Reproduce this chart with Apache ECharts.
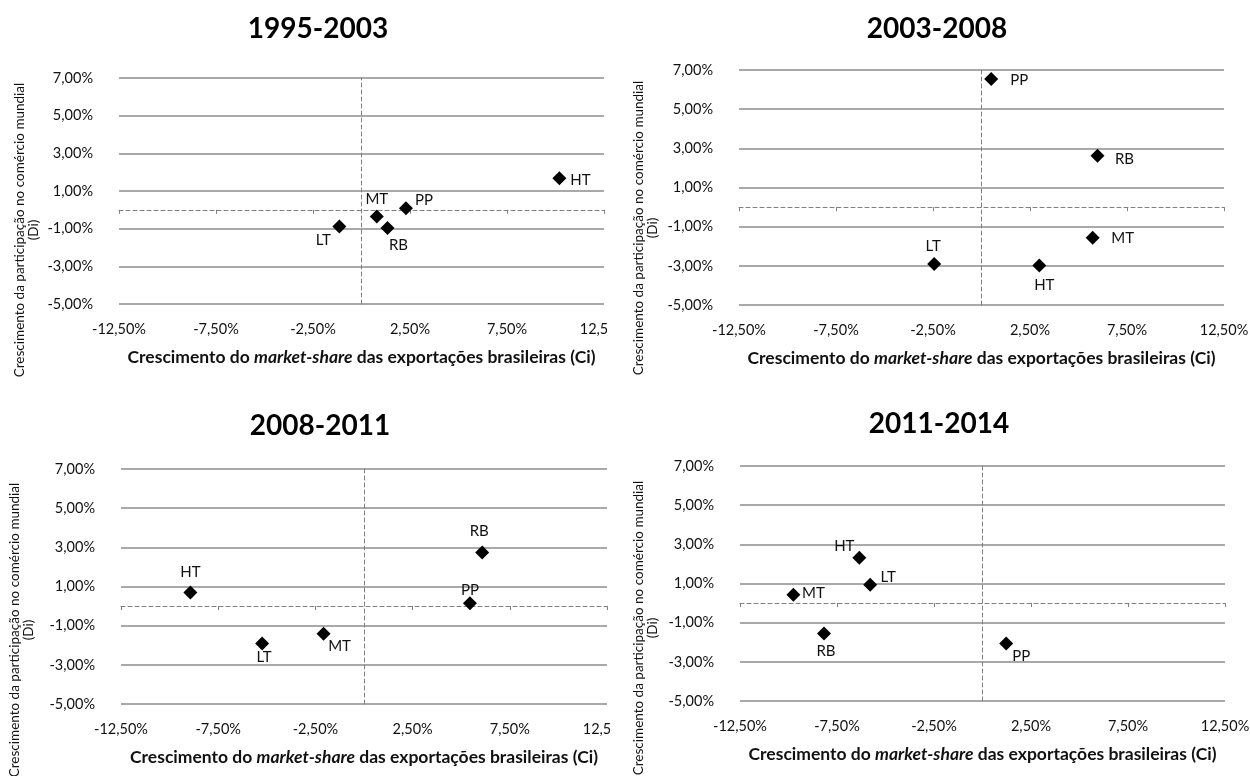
<!DOCTYPE html>
<html>
<head>
<meta charset="utf-8" />
<title>Ci x Di por período</title>
<script src="https://cdn.jsdelivr.net/npm/echarts@6/dist/echarts.min.js"></script>
<style type="text/css">
body, html {
	margin: 0;
	padding: 0;
	width: 1250px;
	height: 776px;
	overflow: hidden;
	background-color: #ffffff;
}

.chart {
	position: absolute;
	overflow: hidden;
}
</style>
</head>
<body>
	<div class="chart" id="c9503" style="left:0;top:0;width:607px;height:390px;"></div>
	<div class="chart" id="c0308" style="left:625px;top:0;width:625px;height:390px;"></div>
	<div class="chart" id="c0811" style="left:0;top:390px;width:610px;height:386px;"></div>
	<div class="chart" id="c1114" style="left:625px;top:390px;width:625px;height:386px;"></div>
	<script>
		// dados (em %)
		let categories = ['HT', 'MT', 'LT', 'RB', 'PP'];
		let xTicks = [-12.5, -7.5, -2.5, 2.5, 7.5, 12.5];
		let yTicks = [-5, -3, -1, 1, 3, 5, 7];

		let ci9503 = [10.2, 0.79, -1.14, 1.34, 2.29];
		let di9503 = [1.68, -0.35, -0.88, -0.97, 0.08];

		let ci0308 = [2.98, 5.73, -2.44, 5.98, 0.5];
		let di0308 = [-2.98, -1.57, -2.91, 2.62, 6.54];

		let ci0811 = [-8.93, -2.08, -5.24, 6.08, 5.45];
		let di0811 = [0.7, -1.41, -1.91, 2.74, 0.15];

		let ci1114 = [-6.35, -9.75, -5.79, -8.17, 1.22];
		let di1114 = [2.31, 0.43, 0.94, -1.55, -2.06];

		// posição dos rótulos em relação ao marcador (px)
		let offsets9503 = [[21, 2], [0, -17], [-16, 14], [11, 17], [18, -8]];
		let offsets0308 = [[5, 20], [30, 0], [-1, -18], [27, 3], [28, 1]];
		let offsets0811 = [[0, -20], [16, 12], [2, 14], [-3, -21], [0, -13]];
		let offsets1114 = [[-15, -12], [20, -2], [18, -8], [2, 18], [15, 13]];

		const FONT = 'Lato, "Noto Sans", sans-serif';
		let yName = 'Crescimento da participação no comércio mundial\n(Di)';
		let xName = '{n|Crescimento do }{i|market-share}{n| das exportações brasileiras (Ci)}';

		function pct(v) {
			return v.toFixed(2).replace('.', ',') + '%';
		}

		function buildOption(title, ci, di, offsets, box) {
			let points = [];
			for (let i = 0; i < categories.length; i++) {
				points.push({
					name: categories[i],
					value: [ci[i], di[i]],
					label: { offset: offsets[i] }
				});
			}
			let xMin = xTicks[0], xMax = xTicks[xTicks.length - 1], xStep = xTicks[1] - xTicks[0];
			let yMin = yTicks[0], yMax = yTicks[yTicks.length - 1], yStep = yTicks[1] - yTicks[0];
			let dashed = { color: '#808080', width: 1, type: [4, 3] };
			return {
				animation: false,
				textStyle: { fontFamily: FONT },
				grid: {
					left: box.left, top: box.top, width: box.width, height: box.height,
					containLabel: false, outerBoundsMode: 'none'
				},
				//título e nome do eixo vertical
				graphic: [
					{
						type: 'text', x: box.titleX, y: box.titleY,
						style: {
							text: title, fontSize: 28, fontWeight: 'bold', fontFamily: FONT, fill: '#000',
							textAlign: 'center', textVerticalAlign: 'middle', align: 'center', verticalAlign: 'middle'
						}
					},
					{
						type: 'text', x: box.yNameX, y: box.yNameY, rotation: Math.PI / 2,
						style: {
							text: yName, fontSize: 13.5, lineHeight: 14, fontFamily: FONT, fill: '#111',
							textAlign: 'center', textVerticalAlign: 'middle', align: 'center', verticalAlign: 'middle'
						}
					}
				],
				xAxis: [
					{
						type: 'value', min: xMin, max: xMax, interval: xStep,
						axisLine: { show: false, onZero: false },
						axisTick: { show: false },
						splitLine: { show: false },
						axisLabel: { formatter: pct, margin: 18, fontSize: 14.5, color: '#111' },
						name: xName, nameLocation: 'middle', nameGap: 44,
						nameTextStyle: {
							rich: {
								n: { fontSize: 17.5, fontWeight: 'bold', fontFamily: FONT, color: '#111' },
								i: { fontSize: 17.5, fontWeight: 'bold', fontStyle: 'italic', fontFamily: FONT, color: '#111' }
							}
						}
					},
					{
						//linha tracejada em y = 0
						type: 'value', position: 'bottom', min: xMin, max: xMax, interval: xStep,
						axisLine: { show: true, onZero: true, onZeroAxisIndex: 0, lineStyle: dashed },
						axisTick: { show: true, length: 4, lineStyle: { color: '#808080' } },
						axisLabel: { show: false },
						splitLine: { show: false }
					}
				],
				yAxis: [
					{
						type: 'value', min: yMin, max: yMax, interval: yStep,
						axisLine: { show: false, onZero: false },
						axisTick: { show: false },
						splitLine: { lineStyle: { color: '#8c8c8c', width: 1.5 } },
						axisLabel: { formatter: pct, margin: 26, fontSize: 14.5, color: '#111' }
					},
					{
						//linha tracejada em x = 0
						type: 'value', position: 'left', min: yMin, max: yMax, interval: yStep,
						axisLine: { show: true, onZero: true, onZeroAxisIndex: 0, lineStyle: dashed },
						axisTick: { show: false },
						axisLabel: { show: false },
						splitLine: { show: false }
					}
				],
				series: [
					{
						type: 'scatter', xAxisIndex: 0, yAxisIndex: 0,
						symbol: 'diamond', symbolSize: 14,
						itemStyle: { color: '#000', opacity: 1 },
						label: {
							show: true, position: 'inside', formatter: '{b}',
							color: '#111', fontSize: 15, fontFamily: FONT
						},
						data: points
					}
				]
			};
		}

		let chart9503 = echarts.init(document.getElementById('c9503'));
		chart9503.setOption(buildOption('1995-2003', ci9503, di9503, offsets9503, {
			left: 119, top: 78, width: 485, height: 226,
			titleX: 318, titleY: 29, yNameX: 27, yNameY: 230
		}));

		let chart0308 = echarts.init(document.getElementById('c0308'));
		chart0308.setOption(buildOption('2003-2008', ci0308, di0308, offsets0308, {
			left: 114, top: 70, width: 485, height: 235,
			titleX: 312, titleY: 29, yNameX: 21, yNameY: 228
		}));

		let chart0811 = echarts.init(document.getElementById('c0811'));
		chart0811.setOption(buildOption('2008-2011', ci0811, di0811, offsets0811, {
			left: 121, top: 79, width: 486, height: 235,
			titleX: 320, titleY: 36, yNameX: 22, yNameY: 240
		}));

		let chart1114 = echarts.init(document.getElementById('c1114'));
		chart1114.setOption(buildOption('2011-2014', ci1114, di1114, offsets1114, {
			left: 115, top: 76, width: 485, height: 235,
			titleX: 314, titleY: 34, yNameX: 21, yNameY: 238
		}));
	</script>
</body>
</html>
